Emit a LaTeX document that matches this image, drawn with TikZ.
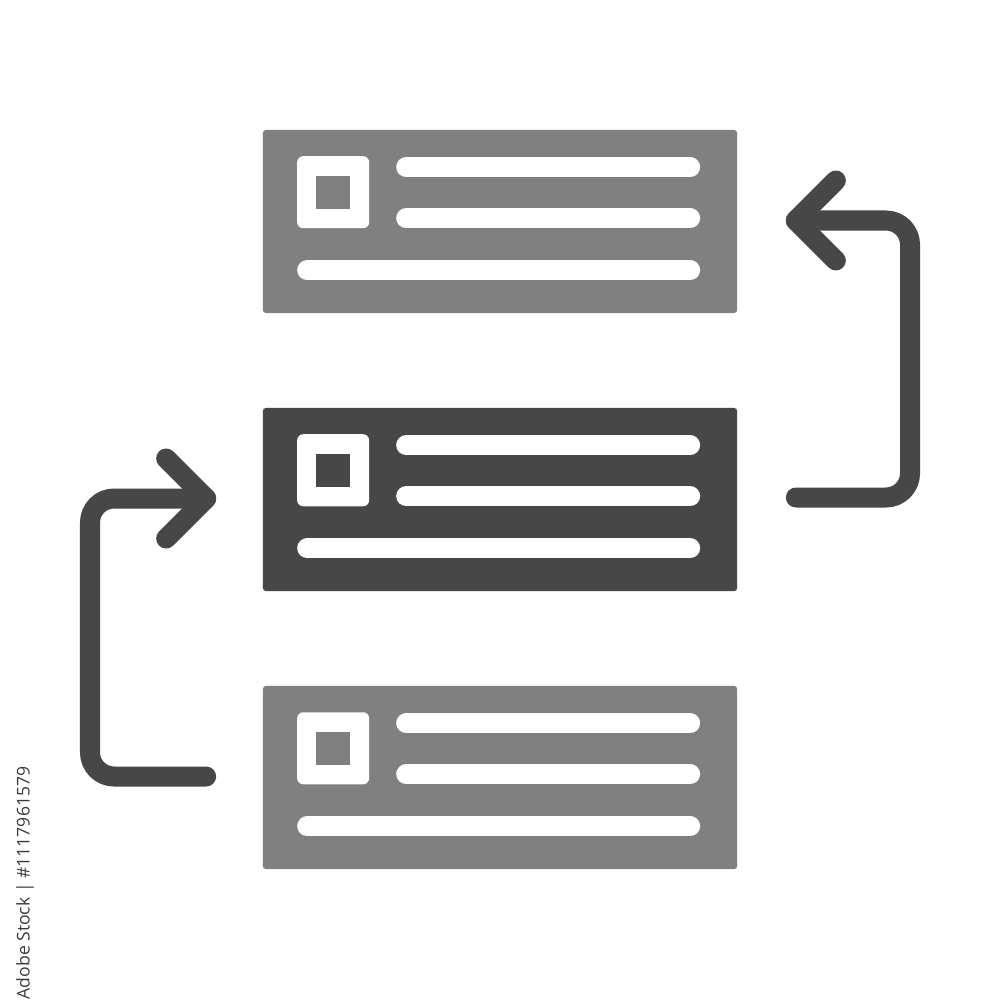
\documentclass[tikz,border=0pt]{standalone}
\usepackage{fontspec}
\newfontfamily\wmfont{Open Sans}
\usetikzlibrary{calc}
\definecolor{lightbox}{HTML}{808080}
\definecolor{darkbox}{HTML}{474747}
\definecolor{idtext}{HTML}{3C3C3C}
\tikzset{
  card/.style={rectangle, rounded corners=0.03cm, minimum width=4.74cm, minimum height=1.83cm, inner sep=0pt, draw=none},
  bar/.style={white, line width=0.2cm, line cap=round},
  flow/.style={darkbox, line width=0.2cm, line cap=round, line join=round, rounded corners=0.24cm},
  head/.style={darkbox, line width=0.2cm, line cap=round, line join=round},
}
\newcommand{\cardinside}[2]{% #1 = node name, #2 = fill colour
  \fill[white, rounded corners=0.06cm] ($(#1.north west)+(35,27)$) rectangle ($(#1.north west)+(107,99)$);
  \fill[#2] ($(#1.north west)+(54,47)$) rectangle ($(#1.north west)+(88,80)$);
  \draw[bar] ($(#1.north west)+(144,38)$) -- ($(#1.north west)+(428,38)$);
  \draw[bar] ($(#1.north west)+(144,89)$) -- ($(#1.north west)+(428,89)$);
  \draw[bar] ($(#1.north west)+(45,141)$) -- ($(#1.north west)+(428,141)$);
}
\begin{document}
\begin{tikzpicture}[x=0.01cm, y=-0.01cm]
  \useasboundingbox (0,0) rectangle (1000,1000);
  \fill[white] (0,0) rectangle (1000,1000);

  \node[card, fill=lightbox] (top) at (500,221.5) {};
  \node[card, fill=darkbox]  (mid) at (500,499.5) {};
  \node[card, fill=lightbox] (bot) at (500,777.5) {};

  \cardinside{top}{lightbox}
  \cardinside{mid}{darkbox}
  \cardinside{bot}{lightbox}

  % right loop: middle -> top
  \coordinate (rstart) at ($(mid.east)+(58,-2)$);
  \coordinate (rtip)   at ($(top.east)+(58,-1)$);
  \draw[flow] (rstart) -- (rstart -| 910,0) -- (910,0 |- rtip) -- (rtip);
  \draw[head] ($(rtip)+(40,-40)$) -- (rtip) -- ($(rtip)+(40,40)$);

  % left loop: bottom -> middle
  \coordinate (lstart) at ($(bot.west)+(-56,-1)$);
  \coordinate (ltip)   at ($(mid.west)+(-56,-1)$);
  \draw[flow] (lstart) -- (lstart -| 90,0) -- (90,0 |- ltip) -- (ltip);
  \draw[head] ($(ltip)+(-40,-40)$) -- (ltip) -- ($(ltip)+(-40,40)$);

  % vertical stock id text
  \node[rotate=90, anchor=east, inner sep=0pt, text=idtext, font=\wmfont\fontsize{5pt}{6pt}\selectfont] (stockid) at (25,766) {Adobe Stock | \#1117961579};
\end{tikzpicture}
\end{document}
